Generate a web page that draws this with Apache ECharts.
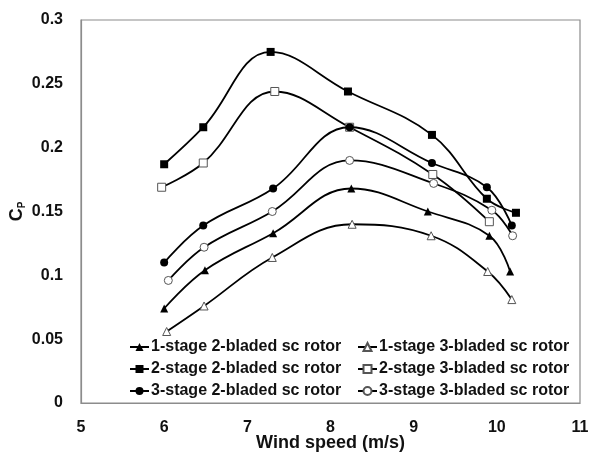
<!DOCTYPE html>
<html>
<head>
<meta charset="utf-8">
<script src="https://cdn.jsdelivr.net/npm/echarts@6/dist/echarts.min.js"></script>
<style>
  html, body { margin: 0; padding: 0; background: #fff; }
  #chart { width: 589px; height: 453px; }
</style>
</head>
<body>
<div id="chart"></div>
<script>
// wind speed (m/s) and Cp
var names = [
  '1-stage 2-bladed sc rotor',
  '1-stage 3-bladed sc rotor',
  '2-stage 2-bladed sc rotor',
  '2-stage 3-bladed sc rotor',
  '3-stage 2-bladed sc rotor',
  '3-stage 3-bladed sc rotor'
];
var xS1B2 = [6.00, 6.49, 7.31, 8.25, 9.17, 9.91, 10.16];
var yS1B2 = [0.074, 0.104, 0.133, 0.168, 0.150, 0.131, 0.103];
var xS1B3 = [6.03, 6.48, 7.30, 8.26, 9.21, 9.89, 10.18];
var yS1B3 = [0.056, 0.076, 0.114, 0.140, 0.131, 0.103, 0.081];
var xS2B2 = [6.00, 6.47, 7.28, 8.21, 9.22, 9.88, 10.23];
var yS2B2 = [0.187, 0.216, 0.275, 0.244, 0.210, 0.160, 0.149];
var xS2B3 = [5.97, 6.47, 7.33, 8.23, 9.23, 9.91];
var yS2B3 = [0.169, 0.188, 0.244, 0.216, 0.179, 0.142];
var xS3B2 = [6.00, 6.47, 7.31, 8.23, 9.22, 9.88, 10.18];
var yS3B2 = [0.110, 0.139, 0.168, 0.216, 0.188, 0.169, 0.139];
var xS3B3 = [6.05, 6.48, 7.30, 8.23, 9.24, 9.94, 10.19];
var yS3B3 = [0.096, 0.122, 0.150, 0.190, 0.172, 0.151, 0.131];

var font = 'Liberation Sans, Arial, sans-serif';

function pairs(xs, ys) {
  return xs.map(function (x, i) { return [x, ys[i]]; });
}

function makeSeries(name, xs, ys, symbol, filled) {
  return {
    name: name,
    type: 'line',
    data: pairs(xs, ys),
    smooth: 0.4,
    symbol: symbol,
    symbolSize: 8,
    showAllSymbol: true,
    lineStyle: { color: '#000', width: 1.8 },
    itemStyle: filled
      ? { color: '#000', borderColor: '#000', borderWidth: 0 }
      : { color: '#fff', borderColor: '#555', borderWidth: 1 },
    emphasis: { disabled: true },
    z: filled ? 3 : 2
  };
}

var chart = echarts.init(document.getElementById('chart'));

var option = {
  animation: false,
  backgroundColor: '#fff',
  grid: {
    left: 81, top: 20, right: 9, bottom: 50,
    containLabel: false, outerBoundsMode: 'none',
    show: true, borderColor: '#8c8c8c', borderWidth: 1.2
  },
  xAxis: {
    type: 'value', min: 5, max: 11, interval: 1,
    name: 'Wind speed (m/s)', nameLocation: 'middle', nameGap: 31, nameMoveOverlap: false,
    nameTextStyle: { fontFamily: font, fontWeight: 'bold', fontSize: 18, color: '#111' },
    axisLine: { show: true, lineStyle: { color: '#8c8c8c', width: 1.2 } },
    axisTick: { show: false },
    splitLine: { show: false },
    axisLabel: { margin: 17, fontFamily: font, fontWeight: 'bold', fontSize: 16, color: '#111' }
  },
  yAxis: {
    type: 'value', min: 0, max: 0.3, interval: 0.05,
    name: '{c|C}{p|P}', nameLocation: 'middle', nameGap: 54, nameRotate: 90, nameMoveOverlap: false,
    nameTextStyle: {
      rich: {
        c: { fontFamily: font, fontWeight: 'bold', fontSize: 18, color: '#111', lineHeight: 20 },
        p: { fontFamily: font, fontWeight: 'bold', fontSize: 10, color: '#111', lineHeight: 20, verticalAlign: 'bottom' }
      }
    },
    axisLine: { show: true, lineStyle: { color: '#8c8c8c', width: 1.2 } },
    axisTick: { show: false },
    splitLine: { show: false },
    axisLabel: { margin: 18, fontFamily: font, fontWeight: 'bold', fontSize: 16, color: '#111' }
  },
  legend: [
    {
      orient: 'vertical', left: 124, top: 334,
      itemWidth: 19, itemHeight: 10, itemGap: 6,
      data: [names[0], names[2], names[4]],
      textStyle: { fontFamily: font, fontWeight: 'bold', fontSize: 16, color: '#111', padding: [0, 0, 0, -3] },
      selectedMode: false
    },
    {
      orient: 'vertical', left: 352, top: 334,
      itemWidth: 19, itemHeight: 10, itemGap: 6,
      data: [names[1], names[3], names[5]],
      textStyle: { fontFamily: font, fontWeight: 'bold', fontSize: 16, color: '#111', padding: [0, 0, 0, -3] },
      selectedMode: false
    }
  ],
  series: [
    makeSeries(names[0], xS1B2, yS1B2, 'triangle', true),
    makeSeries(names[1], xS1B3, yS1B3, 'triangle', false),
    makeSeries(names[2], xS2B2, yS2B2, 'rect', true),
    makeSeries(names[3], xS2B3, yS2B3, 'rect', false),
    makeSeries(names[4], xS3B2, yS3B2, 'circle', true),
    makeSeries(names[5], xS3B3, yS3B3, 'circle', false)
  ]
};

chart.setOption(option);
</script>
</body>
</html>
